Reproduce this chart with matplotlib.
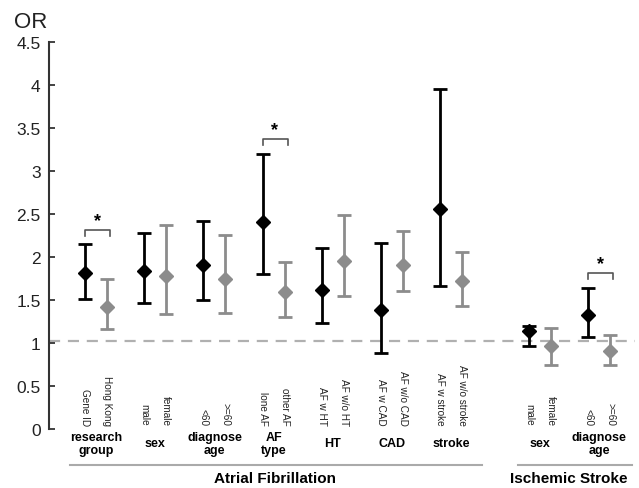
import numpy as np
import matplotlib
matplotlib.use("Agg")
import matplotlib.pyplot as plt

plt.rcParams['font.family'] = ['Liberation Sans', 'DejaVu Sans']

# subgroup labels (pairs) and group labels
groupNames = ['research\ngroup', 'sex', 'diagnose\nage', 'AF\ntype', 'HT', 'CAD', 'stroke',
              'sex', 'diagnose\nage']
firstNames = ['Gene ID', 'male', '<60', 'lone AF', 'AF w HT', 'AF w CAD', 'AF w stroke',
              'male', '<60']
secondNames = ['Hong Kong', 'female', '>=60', 'other AF', 'AF w/o HT', 'AF w/o CAD', 'AF w/o stroke',
               'female', '>=60']

# odds ratios (black = first, gray = second)
orFirst = [1.82, 1.84, 1.91, 2.41, 1.62, 1.38, 2.56, 1.14, 1.33]
loFirst = [1.51, 1.47, 1.50, 1.80, 1.23, 0.88, 1.66, 0.96, 1.07]
hiFirst = [2.15, 2.28, 2.42, 3.20, 2.10, 2.16, 3.96, 1.20, 1.64]
orSecond = [1.42, 1.78, 1.74, 1.59, 1.96, 1.91, 1.72, 0.96, 0.91]
loSecond = [1.16, 1.34, 1.35, 1.30, 1.55, 1.60, 1.43, 0.75, 0.74]
hiSecond = [1.74, 2.37, 2.26, 1.94, 2.49, 2.30, 2.06, 1.18, 1.09]

# groups with significant difference
sigGroups = [0, 3, 8]

groupPos = np.array([0, 1, 2, 3, 4, 5, 6, 7.5, 8.5])
offset = 0.37
xFirst = groupPos
xSecond = groupPos + offset

black = '#000000'
gray = '#8c8c8c'

fig = plt.figure(figsize=(6.39, 4.89), dpi=100)
ax = fig.add_axes([0.0767, 0.1207, 0.917, 0.791])

ax.axhline(1.02, color='#b0b0b0', lw=1.6, ls=(0, (5, 3.5)), zorder=1)

for xs, ors, lo, hi, c in [(xFirst, orFirst, loFirst, hiFirst, black),
                           (xSecond, orSecond, loSecond, hiSecond, gray)]:
    ors = np.array(ors)
    err = [ors - np.array(lo), np.array(hi) - ors]
    ax.errorbar(xs, ors, yerr=err, fmt='D', color=c, ms=7.5, lw=2, capsize=5, capthick=2,
                zorder=3)

# significance brackets
for g in sigGroups:
    top = max(hiFirst[g], hiSecond[g]) + 0.17
    x0, x1 = xFirst[g], xSecond[g]
    ax.plot([x0, x0, x1 + 0.05, x1 + 0.05], [top - 0.07, top, top, top - 0.07],
            color='#555555', lw=1.2, clip_on=False)
    ax.text((x0 + x1) / 2 + 0.02, top + 0.01, '*', ha='center', va='bottom', fontsize=13,
            fontweight='bold')

# category labels
for i in range(len(groupNames)):
    ax.text(xFirst[i], 0.05, firstNames[i], rotation=270, ha='center', va='bottom',
            fontsize=7.2, color='#222222')
    ax.text(xSecond[i], 0.05, secondNames[i], rotation=270, ha='center', va='bottom',
            fontsize=7.2, color='#222222')
    ax.text(groupPos[i] + offset / 2, -0.165, groupNames[i], ha='center', va='center',
            fontsize=9, fontweight='bold', linespacing=1.1, clip_on=False)

# disease brackets
ax.plot([xFirst[0] - 0.26, xSecond[6] + 0.34], [-0.42, -0.42], color='#aaaaaa', lw=1.5,
        clip_on=False)
ax.plot([xFirst[7] - 0.19, xSecond[8] + 0.37], [-0.42, -0.42], color='#aaaaaa', lw=1.5,
        clip_on=False)
ax.text(3.2, -0.57, 'Atrial Fibrillation', ha='center', va='center', fontsize=11,
        fontweight='bold', clip_on=False)
ax.text(8.17, -0.57, 'Ischemic Stroke', ha='center', va='center', fontsize=11,
        fontweight='bold', clip_on=False)

ax.set_xlim(-0.61, 9.29)
ax.set_ylim(0, 4.5)
ax.set_yticks(np.arange(0, 4.51, 0.5))
ax.set_yticklabels(['0', '0.5', '1', '1.5', '2', '2.5', '3', '3.5', '4', '4.5'])
ax.tick_params(axis='y', direction='in', length=4, width=1.2, labelsize=12.5,
               colors='#222222', pad=6)
ax.set_xticks([])
for s in ['top', 'right', 'bottom']:
    ax.spines[s].set_visible(False)
ax.spines['left'].set_linewidth(1.5)
ax.spines['left'].set_color('#333333')

fig.text(0.022, 0.955, 'OR', fontsize=16, va='center', ha='left', color='#222222')

fig.savefig('out.png', dpi=100)
